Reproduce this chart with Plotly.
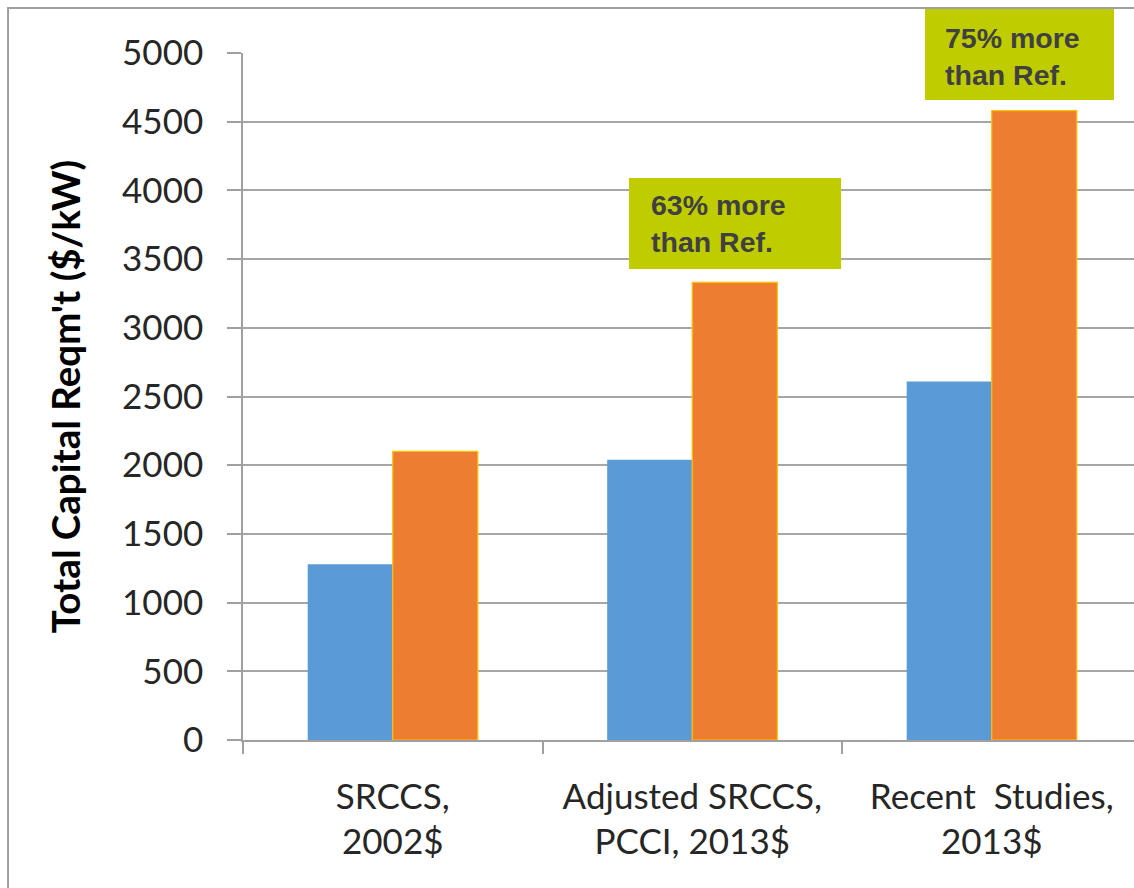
import plotly.graph_objects as go

# Categories and capital requirement values ($/kW)
categories = ["SRCCS,<br>2002$", "Adjusted SRCCS,<br>PCCI, 2013$", "Recent  Studies,<br>2013$"]
reference_plant = [1280, 2040, 2610]
ccs_plant = [2100, 3330, 4580]
y_ticks = [0, 500, 1000, 1500, 2000, 2500, 3000, 3500, 4000, 4500, 5000]
callouts = ["63% more<br>than Ref.", "75% more<br>than Ref."]

fig = go.Figure()
fig.add_trace(go.Bar(
    x=categories, y=reference_plant, name="Reference",
    marker=dict(color="#5B9BD5", line=dict(width=0)),
))
fig.add_trace(go.Bar(
    x=categories, y=ccs_plant, name="With CCS",
    marker=dict(color="#ED7D31", line=dict(color="#FFC000", width=1.2)),
))

tick_font = dict(family="Lato, Calibri, sans-serif", size=35, color="#262626")

fig.update_layout(
    width=1134, height=888,
    margin=dict(l=243, r=0, t=53, b=148),
    paper_bgcolor="white", plot_bgcolor="white",
    showlegend=False,
    barmode="group", bargap=0.432, bargroupgap=0,
    xaxis=dict(
        type="category", range=[-0.5, 2.475],
        showline=True, linecolor="#A0A0A0", linewidth=1.5,
        ticks="outside", tickson="boundaries", ticklen=12,
        tickcolor="#A0A0A0", tickwidth=1.5,
        tickfont=tick_font, ticklabelstandoff=25,
        showgrid=False,
    ),
    yaxis=dict(
        range=[0, 5000], tickvals=y_ticks,
        showline=True, linecolor="#A0A0A0", linewidth=1.5,
        ticks="outside", ticklen=14, tickcolor="#A0A0A0", tickwidth=1.5,
        showgrid=True, gridcolor="#A6A6A6", gridwidth=1.5,
        tickfont=tick_font, ticklabelstandoff=17,
        zeroline=False,
        title=dict(
            text="Total Capital Reqm't ($/kW)",
            font=dict(family="Lato, Calibri, sans-serif", size=38.5, color="#000000", weight="bold"),
            standoff=30,
        ),
    ),
)

# Outer chart frame
fig.add_shape(type="rect", xref="paper", yref="paper",
              x0=-0.2637, x1=1.2, y0=-0.4, y1=1.0655,
              line=dict(color="#A0A0A0", width=2), fillcolor="rgba(0,0,0,0)", layer="below")

# Call-out boxes
boxes = [(0.4332, 0.6712, 0.6856, 0.8181), (0.7654, 0.9776, 0.9316, 1.0640)]
text_pos = [(0.4557, 0.7518), (0.7856, 0.9956)]
for (x0, x1, y0, y1), (tx, ty), label in zip(boxes, text_pos, callouts):
    fig.add_shape(type="rect", xref="paper", yref="paper",
                  x0=x0, x1=x1, y0=y0, y1=y1,
                  line=dict(width=0), fillcolor="#BFCC00", layer="above")
    fig.add_annotation(xref="paper", yref="paper", x=tx, y=ty,
                       xanchor="left", yanchor="middle", align="left",
                       text=f"<b>{label}</b>", showarrow=False,
                       font=dict(family="Liberation Sans, Arial, sans-serif", size=28.5, color="#404040"))

fig.write_html("out.html")
